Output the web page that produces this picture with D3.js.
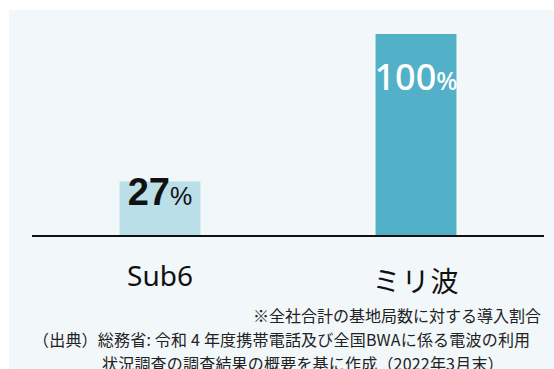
<!DOCTYPE html>
<html>
<head>
<meta charset="utf-8">
<script src="https://cdn.jsdelivr.net/npm/d3@7"></script>
<style>
  html, body { margin: 0; padding: 0; background: #ffffff; }
  svg { display: block; }
</style>
</head>
<body>
<svg id="chart" width="554" height="369"></svg>
<script>
// 5G base-station adoption share by band
const categories = ["Sub6", "ミリ波"];
const values = [27, 100];
const barColors = ["#badfe9", "#53b0c9"];
const notes = [
  "※全社合計の基地局数に対する導入割合",
  "（出典）総務省: 令和 4 年度携帯電話及び全国BWAに係る電波の利用",
  "状況調査の調査結果の概要を基に作成（2022年3月末）"
];

const W = 554, H = 369;
const svg = d3.select("#chart");

// light panel behind the chart
svg.append("rect")
  .attr("x", 9).attr("y", 10)
  .attr("width", W - 9).attr("height", H - 10)
  .attr("fill", "#f2f7fa");

const x = d3.scaleBand()
  .domain(categories)
  .range([32, 544])
  .paddingInner(0.684)
  .paddingOuter(0.342);

const y = d3.scaleLinear().domain([0, 100]).range([236, 34]);

const data = categories.map((c, i) => ({ c, v: values[i], color: barColors[i] }));
const vmax = d3.max(values);

// bars
svg.selectAll("rect.bar")
  .data(data)
  .join("rect")
  .attr("class", "bar")
  .attr("x", d => x(d.c))
  .attr("y", d => y(d.v))
  .attr("width", x.bandwidth())
  .attr("height", d => y(0) - y(d.v))
  .attr("fill", d => d.color);

// baseline axis
const axis = svg.append("g")
  .attr("transform", `translate(0,${y(0)})`)
  .call(d3.axisBottom(x).tickSize(0).tickPadding(0).tickFormat(""));
axis.select(".domain")
  .attr("stroke", "#111")
  .attr("stroke-width", 2)
  .attr("d", "M32,0H544");

// category labels
axis.selectAll(".tick text").remove();
axis.selectAll(".tick").append("text")
  .attr("y", d => d === "Sub6" ? 50 : 56)
  .attr("text-anchor", "middle")
  .attr("fill", "#111")
  .attr("font-family", d => d === "Sub6" ? "'Noto Sans', sans-serif" : "'Noto Sans CJK JP', sans-serif")
  .attr("font-size", 28)
  .attr("letter-spacing", d => d === "Sub6" ? 0 : 1)
  .text(d => d);

// value labels
const labels = svg.selectAll("text.val")
  .data(data)
  .join("text")
  .attr("class", "val")
  .attr("text-anchor", "middle")
  .attr("x", d => x(d.c) + x.bandwidth() / 2)
  .attr("y", d => d.v === vmax ? y(d.v) + 56 : y(d.v) + 24)
  .attr("fill", d => d.v === vmax ? "#ffffff" : "#111111")
  .attr("font-family", d => d.v === vmax ? "'Noto Sans', sans-serif" : "'Liberation Sans', Arial, sans-serif");

labels.append("tspan")
  .attr("font-size", d => d.v === vmax ? 36 : 38)
  .attr("font-weight", d => d.v === vmax ? 500 : 700)
  .text(d => d.v);
labels.append("tspan")
  .attr("font-size", 25)
  .attr("font-weight", d => d.v === vmax ? 500 : 400)
  .text("%");

// notes
const noteX = [253, 33, 102];
const noteY = [322, 346, 370];
const noteSpacing = [0, 0.2, 0.2];
svg.selectAll("text.note")
  .data(notes)
  .join("text")
  .attr("class", "note")
  .attr("x", (d, i) => noteX[i])
  .attr("y", (d, i) => noteY[i])
  .attr("fill", "#222")
  .attr("font-family", "'Noto Sans CJK JP', sans-serif")
  .attr("font-size", 16)
  .attr("letter-spacing", (d, i) => noteSpacing[i])
  .text(d => d);
</script>
</body>
</html>
